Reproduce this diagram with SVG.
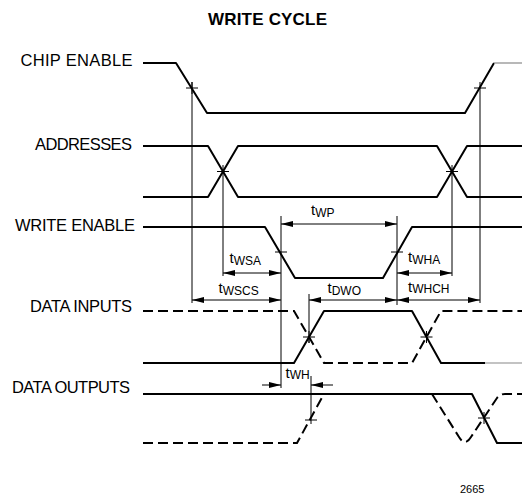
<svg xmlns="http://www.w3.org/2000/svg" width="527" height="495" viewBox="0 0 527 495">
<style>
.sig{fill:none;stroke:#000;stroke-width:2;stroke-linejoin:round}
.dash{fill:none;stroke:#000;stroke-width:2;stroke-dasharray:10 5}
.faint{fill:none;stroke:#888;stroke-width:1.2}
.dim{fill:none;stroke:#000;stroke-width:1}
.x{fill:none;stroke:#000;stroke-width:1}
.lbl{font-family:"Liberation Sans",Arial,sans-serif;font-size:16.5px;fill:#000}
.t{font-family:"Liberation Sans",Arial,sans-serif;font-size:15px;fill:#000}
.s{font-size:12px}
.title{font-family:"Liberation Sans",Arial,sans-serif;font-size:17px;font-weight:bold;fill:#000}
</style>
<defs>
<marker id="ah" viewBox="0 0 12 6" refX="12" refY="3" markerWidth="12" markerHeight="6" orient="auto-start-reverse" markerUnits="userSpaceOnUse"><path d="M0,0 L12,3 L0,6 z" fill="#000"/></marker>
</defs>
<rect width="527" height="495" fill="#fff"/>
<text class="title" x="208" y="25" textLength="119">WRITE CYCLE</text>

<g id="chip-enable">
<text class="lbl" x="20.5" y="65.5" textLength="112">CHIP ENABLE</text>
<path class="sig" d="M143,63 H176 L207,113 H465 L494,63"/>
<path class="faint" d="M494,63 H522"/>
<path class="x" d="M186,88 H198 M192,82 V94 M474,88 H486"/>
</g>

<g id="addresses">
<text class="lbl" x="35" y="150" textLength="97">ADDRESSES</text>
<path class="sig" d="M143,146 H208 L238,197 H437 L467,146 H522"/>
<path class="sig" d="M143,197 H208 L238,146 H437 L467,197 H522"/>
<path class="x" d="M217,171.5 H229 M446,171.5 H458"/>
</g>

<g id="write-enable">
<text class="lbl" x="15" y="230.5" textLength="120">WRITE ENABLE</text>
<path class="sig" d="M143,227 H265 L295,278 H383 L412,227 H522"/>
<path class="x" d="M275,252 H287 M391,252 H403"/>
</g>

<g id="data-inputs">
<text class="lbl" x="30" y="312" textLength="102">DATA INPUTS</text>
<path class="dash" d="M143,311 H294 L324,363 H412 L441,311 H522"/>
<path class="sig" d="M143,363 H294 L324,311 H412 L441,363 H485"/>
<path class="faint" d="M485,363 H522"/>
<path class="x" d="M303,337 H315 M309,331 V343 M420.5,337 H432.5 M426.5,331 V343"/>
</g>

<g id="data-outputs">
<text class="lbl" x="12" y="393" textLength="118">DATA OUTPUTS</text>
<path class="sig" d="M143,394 H472 L497,443 H522"/>
<path class="dash" d="M143,443 H297 L324,394"/>
<path class="dash" d="M432,394 L459,437 Q465,447 471,437 L497,398 Q500,394 505,394 H522"/>
<path class="x" d="M305,420 H317 M478,418 H490 M484,412 V424"/>
</g>

<g id="connectors">
<path class="dim" d="M192,82 V303 M480,82 V303 M223,165 V276 M452,165 V276 M281,216 V388 M397,216 V305 M309,294 V343 M311,376 V424"/>
<line class="dim" x1="281" y1="224" x2="397" y2="224" marker-start="url(#ah)" marker-end="url(#ah)"/>
<line class="dim" x1="223" y1="273" x2="281" y2="273" marker-start="url(#ah)" marker-end="url(#ah)"/>
<line class="dim" x1="397" y1="273" x2="452" y2="273" marker-start="url(#ah)" marker-end="url(#ah)"/>
<line class="dim" x1="192" y1="300" x2="281" y2="300" marker-start="url(#ah)" marker-end="url(#ah)"/>
<line class="dim" x1="309" y1="300" x2="397" y2="300" marker-start="url(#ah)" marker-end="url(#ah)"/>
<line class="dim" x1="397" y1="300" x2="480" y2="300" marker-start="url(#ah)" marker-end="url(#ah)"/>
<line class="dim" x1="262" y1="385" x2="281" y2="385" marker-end="url(#ah)"/>
<line class="dim" x1="333" y1="385" x2="311" y2="385" marker-end="url(#ah)"/>
</g>

<g id="timing-labels">
<text class="t" x="311" y="215">t<tspan class="s" dy="2">WP</tspan></text>
<text class="t" x="229.5" y="263">t<tspan class="s" dy="2">WSA</tspan></text>
<text class="t" x="408" y="262">t<tspan class="s" dy="2">WHA</tspan></text>
<text class="t" x="218.5" y="293">t<tspan class="s" dy="1.5">WSCS</tspan></text>
<text class="t" x="327.5" y="293">t<tspan class="s" dy="2">DWO</tspan></text>
<text class="t" x="408" y="291.5">t<tspan class="s" dy="1.5">WHCH</tspan></text>
<text class="t" x="285.5" y="378">t<tspan class="s" dy="0.5">WH</tspan></text>
</g>

<text x="460" y="493" font-family="Liberation Sans, Arial, sans-serif" font-size="11">2665</text>
</svg>
